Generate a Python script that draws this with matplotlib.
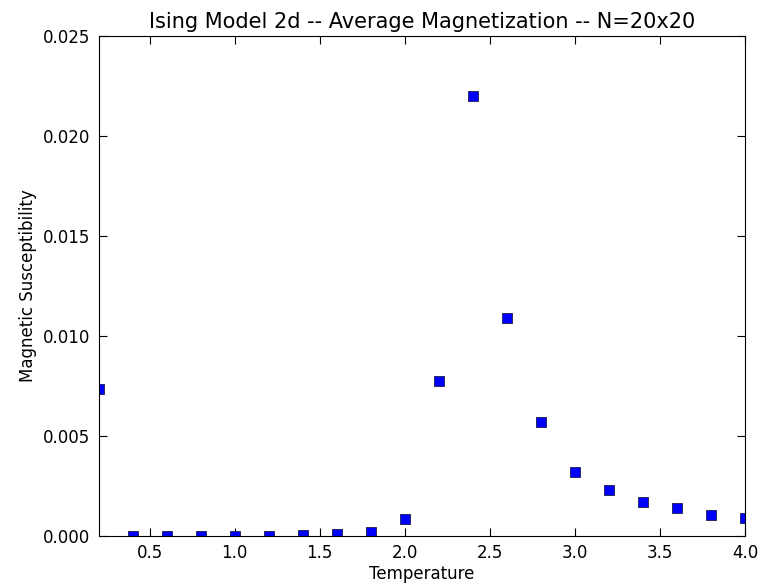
import numpy as np
import matplotlib
matplotlib.use('Agg')
import matplotlib.pyplot as plt

# temperatures and measured susceptibility
temperature = [0.2, 0.4, 0.6, 0.8, 1.0, 1.2, 1.4, 1.6, 1.8, 2.0,
               2.2, 2.4, 2.6, 2.8, 3.0, 3.2, 3.4, 3.6, 3.8, 4.0]
susceptibility = [0.00735, 0.0, 0.0, 0.0, 0.0, 0.0, 0.00005, 0.0001, 0.0002, 0.00085,
                  0.00775, 0.0220, 0.0109, 0.0057, 0.0032, 0.0023, 0.0017, 0.0014, 0.00105, 0.0009]

plt.rcParams['font.family'] = 'DejaVu Sans'
plt.rcParams['font.size'] = 12

fig = plt.figure(figsize=(7.59, 5.86), dpi=100)
ax = fig.add_axes([0.130, 0.0853, 0.8516, 0.8533])

ax.plot(temperature, susceptibility, 's', color='blue', markeredgecolor='#1a1a4a',
        markeredgewidth=0.6, markersize=7)

ax.set_xlim(0.2, 4.0)
ax.set_ylim(0, 0.025)
ax.set_xticks([0.5, 1.0, 1.5, 2.0, 2.5, 3.0, 3.5, 4.0])
ax.set_yticks([0.0, 0.005, 0.010, 0.015, 0.020, 0.025])
ax.set_yticklabels(['0.000', '0.005', '0.010', '0.015', '0.020', '0.025'])
ax.tick_params(direction='in', top=True, right=True, length=6, width=0.8, labelsize=12, pad=6)

ax.set_title('Ising Model 2d -- Average Magnetization -- N=20x20', fontsize=15)
ax.set_xlabel('Temperature', fontsize=12, labelpad=2)
ax.set_ylabel('Magnetic Susceptibility', fontsize=12)

fig.savefig('out.png', dpi=100)
